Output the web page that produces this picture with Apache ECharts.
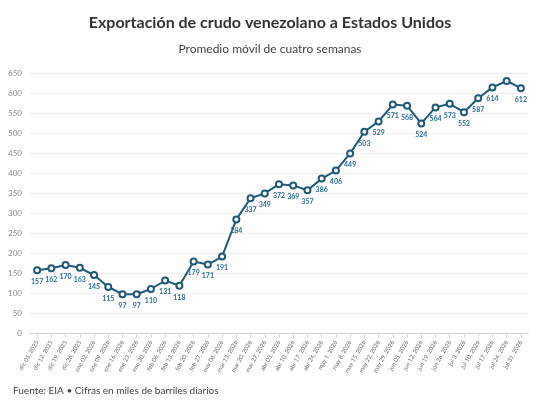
<!DOCTYPE html><html><head><meta charset="utf-8"><script src="https://cdn.jsdelivr.net/npm/echarts@6/dist/echarts.min.js"></script></head><body style="margin:0"><div id="c" style="width:540px;height:400px"></div><script>
const categories=["dic 05, 2025","dic 12, 2025","dic 19, 2025","dic 26, 2025","ene 02, 2026","ene 09, 2026","ene 16, 2026","ene 23, 2026","ene 30, 2026","feb 06, 2026","feb 13, 2026","feb 20, 2026","feb 27, 2026","mar 06, 2026","mar 13, 2026","mar 20, 2026","mar 27, 2026","abr 03, 2026","abr 10, 2026","abr 17, 2026","abr 24, 2026","may 1, 2026","may 8, 2026","may 15, 2026","may 22, 2026","may 29, 2026","jun 05, 2026","jun 12, 2026","jun 19, 2026","jun 26, 2026","jul 3, 2026","jul 10, 2026","jul 17, 2026","jul 24, 2026","jul 31, 2026"];
const values=[157,162,170,163,145,115,97,97,110,131,118,179,171,191,284,337,349,372,369,357,386,406,449,503,529,571,568,524,564,573,552,587,614,630,612];
const labelled=values.map((v,i)=>i!==33);
const c=echarts.init(document.getElementById('c'));
c.setOption({
title:[{text:'Exportación de crudo venezolano a Estados Unidos',left:'center',top:10,textStyle:{fontFamily:'Lato',fontSize:16,fontWeight:'bold',color:'#333'}},
{text:'Promedio móvil de cuatro semanas',left:'center',top:38,textStyle:{fontFamily:'Lato',fontSize:12,fontWeight:'normal',color:'#444'}},
{text:'Fuente: EIA • Cifras en miles de barriles diarios',left:8,top:381,textStyle:{fontFamily:'Lato',fontSize:10,fontWeight:'normal',color:'#444'}}],
grid:{left:30,right:12,top:73,bottom:67},
xAxis:{type:'category',data:categories,boundaryGap:true,axisLine:{lineStyle:{color:'#ccc'}},axisTick:{show:true,alignWithLabel:true,lineStyle:{color:'#ddd'}},axisLabel:{rotate:60,fontSize:6,color:'#666',interval:0,fontFamily:'Lato'}},
yAxis:{type:'value',min:0,max:650,interval:50,axisLabel:{fontSize:8,color:'#888',fontFamily:'Lato'},splitLine:{lineStyle:{color:'#eee'}}},
series:[{type:'line',data:values.map((v,i)=>({value:v,label:{show:labelled[i]}})),lineStyle:{color:'#1d5a78',width:2},symbol:'circle',symbolSize:6,itemStyle:{color:'#fff',borderColor:'#1d5a78',borderWidth:2},
label:{show:true,position:'bottom',distance:4,fontSize:7,fontWeight:'bold',color:'#2a6f97',fontFamily:'Lato'}}]
});
</script></body></html>
